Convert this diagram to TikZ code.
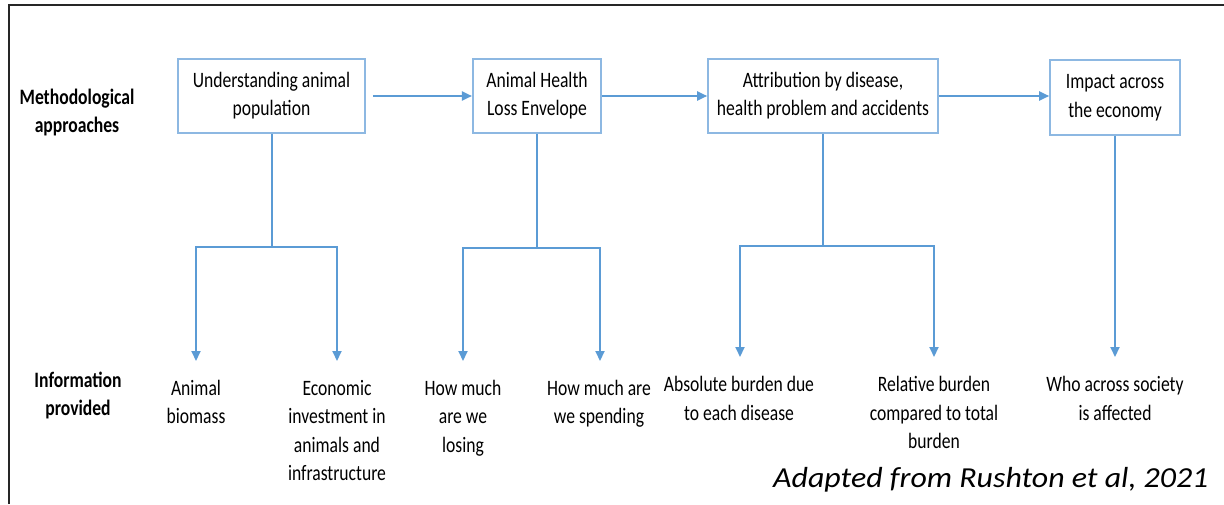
\documentclass[tikz,border=0pt]{standalone}
\usepackage{fontspec}
\setmainfont[FakeStretch=0.8]{Carlito}
\newfontfamily\capfont[FakeStretch=1.1]{Carlito}
\usetikzlibrary{arrows.meta}
\definecolor{arrblue}{HTML}{5B9BD5}
\definecolor{boxblue}{HTML}{8DB8E2}
\newcommand{\mlines}[1]{\begin{tabular}[t]{@{}c@{}}#1\end{tabular}}
\begin{document}
\begin{tikzpicture}[x=1pt,y=-1pt,
  mbox/.style={draw=boxblue,line width=1.6pt,inner sep=0pt,font=\fontsize{22}{28.5}\selectfont},
  info/.style={anchor=base,inner sep=0pt,font=\fontsize{22}{28.5}\selectfont},
  hdr/.style={anchor=base,inner sep=0pt,font=\fontsize{22}{28}\selectfont\bfseries},
  conn/.style={draw=arrblue,line width=2pt},
  arr/.style={conn,-{Triangle[length=10pt,width=9pt]}}]
\useasboundingbox (0,0) rectangle (1224,504);
\draw[line width=2.5pt, black!85] (9,504) -- (9,5) -- (1224,5);

% headers
\node[hdr] (h1) at (77,104) {\mlines{Methodological\\approaches}};
\node[hdr] (h2) at (78,387) {\mlines{Information\\provided}};

% boxes
\node[mbox, minimum width=187pt, minimum height=74pt] (b1) at (271.5,96) {\mlines{Understanding animal\\population}};
\node[mbox, minimum width=128.5pt, minimum height=74pt] (b2) at (537,96) {\mlines{Animal Health\\Loss Envelope}};
\node[mbox, minimum width=230pt, minimum height=74pt] (b3) at (823,96) {\mlines{Attribution by disease,\\health problem and accidents}};
\node[mbox, minimum width=130pt, minimum height=75pt] (b4) at (1115,97.5) {\mlines{Impact across\\the economy}};

% arrows between boxes
\draw[arr, shorten <=7pt] (b1) -- (b2);
\draw[arr] (b2) -- (b3);
\draw[arr] (b3.east) -- (b3.east -| b4.west);

% junctions and tips
\coordinate (j1) at (271.5,247);
\coordinate (j2) at (537,248);
\coordinate (j3) at (823,246);
\coordinate (p1) at (196,361);
\coordinate (p2) at (337,361);
\coordinate (p3) at (463,361);
\coordinate (p4) at (600,361);
\coordinate (p5) at (740,357);
\coordinate (p6) at (934,357);
\coordinate (p7) at (1115,357);

\draw[conn] (b1.south) -- (j1);
\draw[arr] (j1) -| (p1);
\draw[arr] (j1) -| (p2);
\draw[conn] (b2.south) -- (j2);
\draw[arr] (j2) -| (p3);
\draw[arr] (j2) -| (p4);
\draw[conn] (b3.south) -- (j3);
\draw[arr] (j3) -| (p5);
\draw[arr] (j3) -| (p6);
\draw[arr] (b4.south) -- (p7);

% information texts
\node[info] (t1) at (196,395) {\mlines{Animal\\biomass}};
\node[info] (t2) at (337,395) {\mlines{Economic\\investment in\\animals and\\infrastructure}};
\node[info] (t3) at (463,395) {\mlines{How much\\are we\\losing}};
\node[info] (t4) at (599,395) {\mlines{How much are\\we spending}};
\node[info] (t5) at (739,391.5) {\mlines{Absolute burden due\\to each disease}};
\node[info] (t6) at (934,391.5) {\mlines{Relative burden\\compared to total\\burden}};
\node[info] (t7) at (1115,391.5) {\mlines{Who across society\\is affected}};

% caption
\node[anchor=base west, inner sep=0pt, font=\capfont\itshape\fontsize{29}{34}\selectfont] (cap) at (773,487) {Adapted from Rushton et al, 2021};
\end{tikzpicture}
\end{document}
